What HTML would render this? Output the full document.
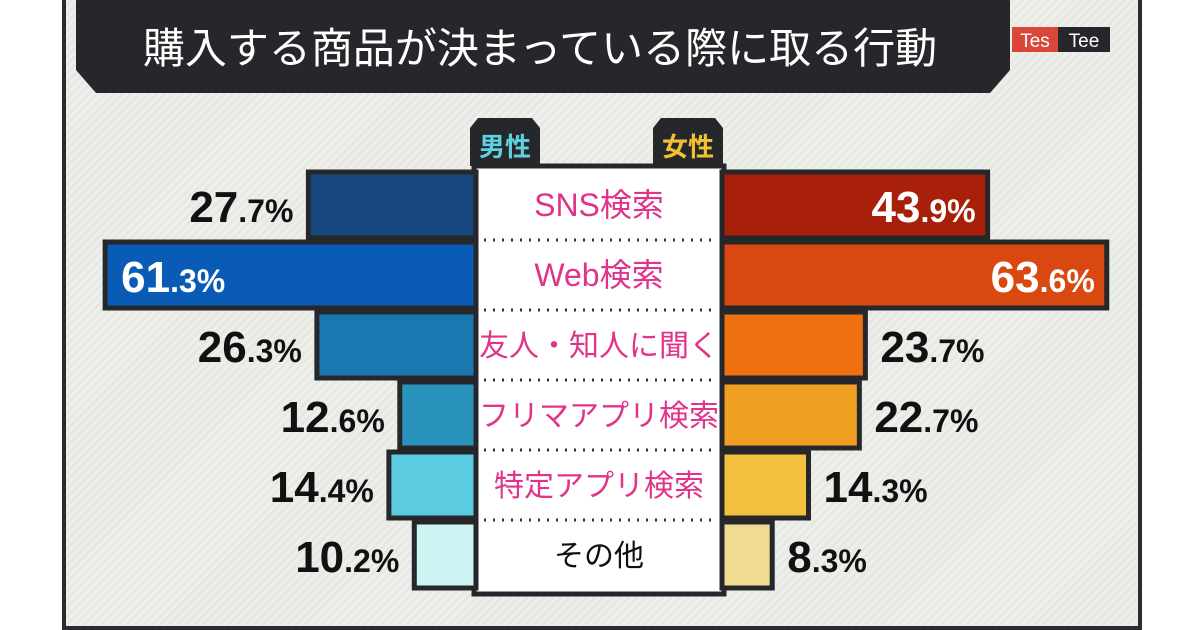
<!DOCTYPE html>
<html><head><meta charset="utf-8"><style>
body{margin:0;width:1200px;height:630px;background:#fff;overflow:hidden;font-family:"Liberation Sans","Noto Sans CJK JP",sans-serif}
#frame{position:absolute;left:62px;top:-4px;width:1072px;height:626px;border:4px solid #2a2c30;background:repeating-linear-gradient(135deg,#eeefeb 0 3px,#e6e8e3 3px 6px)}
</style></head><body>
<div id="frame"></div>
<svg width="1200" height="630" style="position:absolute;left:0;top:0" id="svg">
<polygon points="76,0 1010,0 1010,70 990,93 96,93 76,70" fill="#25272b"/>
<text x="540" y="63" text-anchor="middle" font-size="42" fill="#fff" font-family="'Liberation Sans','Noto Sans CJK JP',sans-serif">購入する商品が決まっている際に取る行動</text>
<g>
<rect x="1012" y="27" width="46" height="25" fill="#d9473a"/><rect x="1058" y="27" width="52" height="25" fill="#25272b"/>
<text x="1035" y="47" text-anchor="middle" font-size="19" fill="#fff">Tes</text><text x="1084" y="47" text-anchor="middle" font-size="19" fill="#fff">Tee</text></g>
<g><path d="M470,166 L470,128 L478,118 L532,118 L540,128 L540,166Z" fill="#25272b"/>
<text x="505" y="156" text-anchor="middle" font-size="26" font-weight="bold" fill="#5fd0e0">男性</text></g>
<g><path d="M653,166 L653,128 L661,118 L715,118 L723,128 L723,166Z" fill="#25272b"/>
<text x="688" y="156" text-anchor="middle" font-size="26" font-weight="bold" fill="#f2c030">女性</text></g>
<rect x="474" y="166" width="250" height="428" fill="#fff" stroke="#25272b" stroke-width="5"/>
<g id="bars"></g>
</svg>
<script>
const categories=["SNS検索","Web検索","友人・知人に聞く","フリマアプリ検索","特定アプリ検索","その他"];
const maleValues=[27.7,61.3,26.3,12.6,14.4,10.2];
const femaleValues=[43.9,63.6,23.7,22.7,14.3,8.3];
const maleColors=["#16487e","#0a5bb5","#1a78b0","#2a93bb","#5bcbe0","#cdf3f3"];
const femaleColors=["#a8200a","#d94810","#ee7010","#f0a020","#f3c040","#f0dc90"];
const NS="http://www.w3.org/2000/svg",g=document.getElementById("bars");
const scale=v=>v*6.05, rowY=i=>170+i*70, rowH=70, L=476, R=722;
function mk(t,a){const e=document.createElementNS(NS,t);for(const k in a)e.setAttribute(k,a[k]);g.appendChild(e);return e;}
function pct(txt,x,y,anchor,fill){
 const m=txt.match(/^(\d+)(\.\d)$/);const t=mk("text",{x:x,y:y,"text-anchor":anchor,fill:fill,"font-weight":"bold","font-size":"44"});
 t.innerHTML=m[1]+'<tspan font-size="32">'+m[2]+'%</tspan>';return t;}
categories.forEach((c,i)=>{
 const y=rowY(i),mw=scale(maleValues[i]),fw=scale(femaleValues[i]);
 const mb=mk("rect",{x:L-mw,y:y+2,width:mw,height:rowH-4,fill:maleColors[i],stroke:"#25272b","stroke-width":5});
 
 
 const fb=mk("rect",{x:R,y:y+2,width:fw,height:rowH-4,fill:femaleColors[i],stroke:"#25272b","stroke-width":5});
 
 
 const inM=maleValues[i]>50, inF=femaleValues[i]>35;
 const ml=pct(maleValues[i].toFixed(1),inM?L-mw+16:L-mw-15,y+52,inM?"start":"end",inM?"#fff":"#111");
 
 
 const fl=pct(femaleValues[i].toFixed(1),inF?R+fw-12:R+fw+15,y+52,inF?"end":"start",inF?"#fff":"#111");
 
 
 const ct=mk("text",{x:599,y:y+46,"text-anchor":"middle","font-size":i<2?32:30,fill:i==5?"#111":"#e0348a"});
 ct.textContent=c;
 
 
 if(i<5){const d=mk("line",{x1:484,x2:716,y1:y+rowH,y2:y+rowH,stroke:"#333","stroke-width":3,"stroke-dasharray":"2 7"});
 
 }
});
</script>
</body></html>
